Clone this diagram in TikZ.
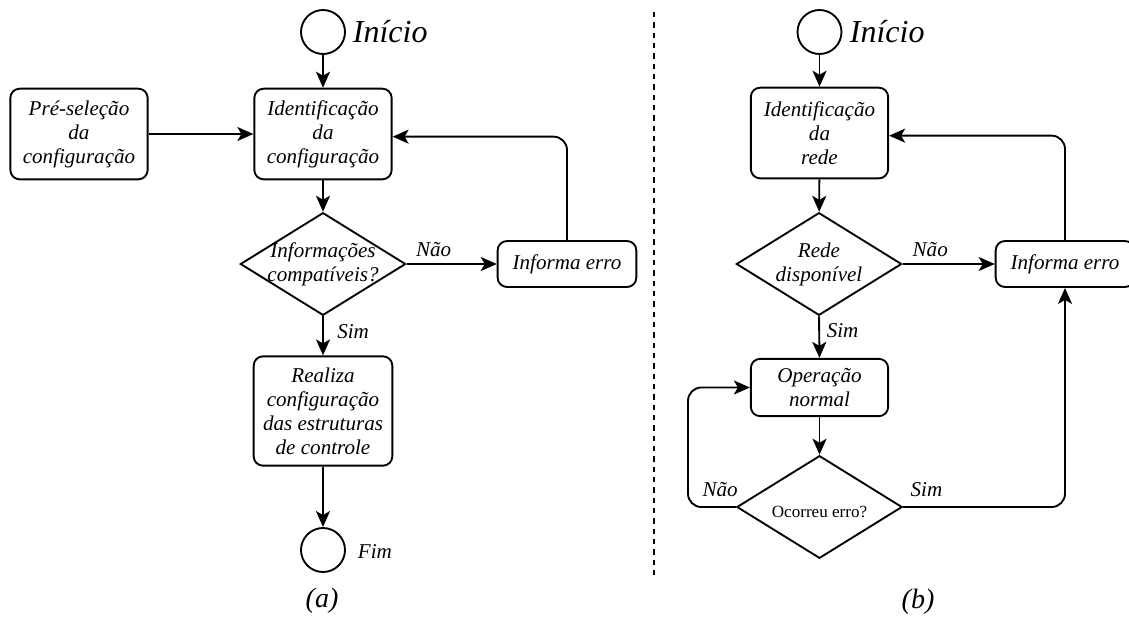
\documentclass[tikz,border=0pt]{standalone}
\usepackage{fontspec}
\setmainfont{Liberation Serif}
\usetikzlibrary{shapes.geometric,arrows.meta}
\begin{document}
\begin{tikzpicture}[x=0.75pt,y=-0.75pt,
  line width=1.4pt,
  font=\fontsize{15.8}{18}\selectfont\itshape,
  proc/.style={draw,rounded corners=7pt,align=center,inner sep=2pt,
               minimum width=103pt},
  decide/.style={draw,diamond,inner sep=0pt,minimum width=124pt,minimum height=77pt},
  term/.style={draw,circle,inner sep=0pt,minimum size=33pt},
  flow/.style={-{Stealth[length=12pt,width=10.5pt,inset=3pt]}},
  lbl/.style={inner sep=1pt},
  big/.style={font=\fontsize{24}{28}\selectfont\itshape},
  subcap/.style={font=\fontsize{21}{24}\selectfont\itshape}
]
\useasboundingbox (0,0) rectangle (1129,618);

% ---------- (a) configuration flow ----------
\node[term] (s1) at (323,32) {};
\node[big,anchor=west,inner sep=0pt] (s1t) at (352,32) {Início};
\node[proc,minimum height=68pt] (id1) at (323,134) {Identificação\\da\\configuração};
\node[proc,minimum height=68pt] (pre) at (79,134) {Pré-seleção\\da\\configuração};
\node[decide,label={[align=center]center:Informações\\compatíveis?}] (d1) at (323,264) {};
\node[proc,minimum height=34.5pt,minimum width=104pt] (err1) at (567,264) {Informa erro};
\node[proc,minimum height=82pt,minimum width=104pt] (real) at (323,411) {Realiza\\configuração\\das estruturas\\de controle};
\node[term] (f1) at (323,550) {};
\node[anchor=west,inner sep=0pt] (f1t) at (357,552) {Fim};
\node[subcap] (capa) at (322,601) {(a)};

\draw[flow] (s1) -- (id1);
\draw[flow] (pre.east) -- (id1.west |- pre.east);
\draw[flow] (id1) -- (d1);
\draw[flow] (d1.east) -- node[lbl,pos=0.3,above,yshift=4pt]{Não} (err1.west);
\draw[flow,rounded corners=10pt] (err1.north) |- ([yshift=-2pt]id1.east);
\draw[flow] (d1.south) -- node[lbl,right,pos=0.4,xshift=9pt]{Sim} (real.north);
\draw[flow] (real) -- (f1);

% ---------- separator ----------
\coordinate (sepTop) at (654,12);
\coordinate (sepBot) at (654,578);
\draw[line width=1.2pt,dash pattern=on 4pt off 3.75pt] (sepTop) -- (sepBot);

% ---------- (b) network flow ----------
\node[term] (s2) at (819.5,32) {};
\node[big,anchor=west,inner sep=0pt] (s2t) at (849,32) {Início};
\node[proc,minimum height=68pt] (id2) at (819.5,133) {Identificação\\da\\rede};
\node[decide,label={[align=center]center:Rede\\disponível}] (d2) at (819,264) {};
\node[proc,minimum height=34.5pt,minimum width=104pt] (err2) at (1065,264) {Informa erro};
\node[proc,minimum height=43pt] (op) at (819.5,387.5) {Operação\\normal};
\node[decide,label={[font=\fontsize{12.8}{14}\selectfont\upshape,yshift=-4pt]center:Ocorreu erro?}] (d3) at (819.5,507) {};
\node[subcap] (capb) at (918,602) {(b)};

\coordinate (loopL) at (688,507);
\coordinate (loopR) at (1065,507);

\draw[flow] (s2) -- (id2);
\draw[flow] (id2) -- (d2);
\draw[flow] (d2.east) -- node[lbl,pos=0.3,above,yshift=4pt]{Não} (err2.west);
\draw[flow,rounded corners=10pt] (err2.north) |- ([yshift=-2pt]id2.east);
\draw[flow] (d2.south) -- node[lbl,right,pos=0.35,xshift=4pt]{Sim} (op.north);
\draw[flow] (op) -- (d3);
\draw[flow,rounded corners=10pt] (d3.west) -- (loopL) |- (op.west);
\node[lbl,above left] at ([xshift=3pt,yshift=6pt]d3.west) {Não};
\draw[flow,rounded corners=10pt] (d3.east) -- (loopR) -- (err2.south);
\node[lbl,above right] at ([xshift=4pt,yshift=6pt]d3.east) {Sim};
\end{tikzpicture}
\end{document}
